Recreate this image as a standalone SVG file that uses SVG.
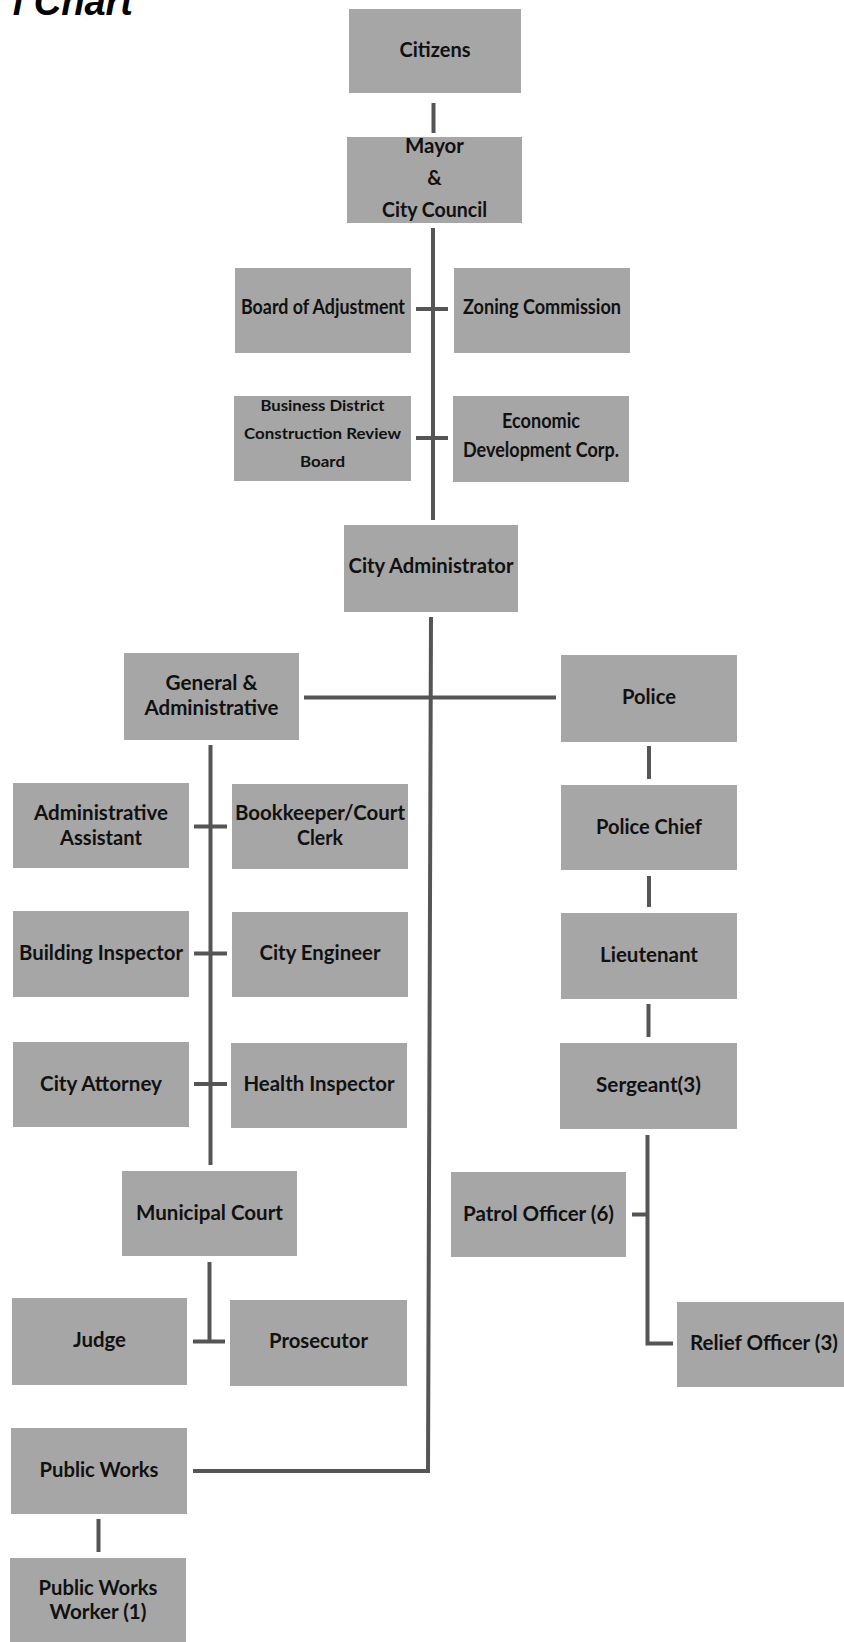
<svg xmlns="http://www.w3.org/2000/svg" width="844" height="1642" viewBox="0 0 844 1642">
<style>
.box{fill:#a6a6a6;}
.t{font-family:Lato,"Open Sans","Liberation Sans",sans-serif;font-weight:bold;font-size:20px;fill:#111;text-anchor:middle;}
.s{font-size:16px;}
.ln{stroke:#555555;stroke-width:4;fill:none;}
.title{font-family:"Liberation Sans",Arial,sans-serif;font-weight:bold;font-style:italic;font-size:38px;fill:#000;text-anchor:end;}
</style>
<rect width="844" height="1642" fill="#fff"/>
<text class="title" x="133" y="15">l Chart</text>
<g id="connectors">
<path class="ln" d="M433.5 103V133"/>
<path class="ln" d="M433 228V520"/>
<path class="ln" d="M416 309H448"/>
<path class="ln" d="M416 438H448"/>
<path class="ln" d="M431 617L428 1471H193"/>
<path class="ln" d="M304 697.5H556"/>
<path class="ln" d="M210.5 745V1165"/>
<path class="ln" d="M194 826.5H227"/>
<path class="ln" d="M194 953.5H227"/>
<path class="ln" d="M194 1084H227"/>
<path class="ln" d="M209.5 1262V1342"/>
<path class="ln" d="M193 1341.5H225"/>
<path class="ln" d="M649 746V779"/>
<path class="ln" d="M649 876V907"/>
<path class="ln" d="M648.5 1004V1037"/>
<path class="ln" d="M647.5 1135V1343.5H673"/>
<path class="ln" d="M632 1214.5H648"/>
<path class="ln" d="M98.5 1519V1552"/>
</g>
<g id="citizens"><rect class="box" x="349" y="9" width="172" height="84"/><text class="t" x="435" y="57" textLength="71" lengthAdjust="spacingAndGlyphs">Citizens</text></g>
<g id="mayor"><rect class="box" x="347" y="137" width="175" height="86"/><text class="t" x="434.5" y="153" textLength="59" lengthAdjust="spacingAndGlyphs">Mayor</text><text class="t" x="434.5" y="185">&amp;</text><text class="t" x="434.5" y="217" textLength="105" lengthAdjust="spacingAndGlyphs">City Council</text></g>
<g id="board-of-adjustment"><rect class="box" x="235" y="268" width="176" height="85"/><text class="t" x="323" y="314" textLength="164" lengthAdjust="spacingAndGlyphs">Board of Adjustment</text></g>
<g id="zoning-commission"><rect class="box" x="454" y="268" width="176" height="85"/><text class="t" x="542" y="314" textLength="158" lengthAdjust="spacingAndGlyphs">Zoning Commission</text></g>
<g id="business-district"><rect class="box" x="234" y="396" width="177" height="85"/><text class="t s" x="322.5" y="411" textLength="124" lengthAdjust="spacingAndGlyphs">Business District</text><text class="t s" x="322.5" y="439" textLength="157" lengthAdjust="spacingAndGlyphs">Construction Review</text><text class="t s" x="322.5" y="467" textLength="45" lengthAdjust="spacingAndGlyphs">Board</text></g>
<g id="economic-development"><rect class="box" x="453" y="396" width="176" height="86"/><text class="t" x="541" y="428" textLength="78" lengthAdjust="spacingAndGlyphs">Economic</text><text class="t" x="541" y="457" textLength="156" lengthAdjust="spacingAndGlyphs">Development Corp.</text></g>
<g id="city-administrator"><rect class="box" x="344" y="525" width="174" height="87"/><text class="t" x="431" y="573" textLength="165" lengthAdjust="spacingAndGlyphs">City Administrator</text></g>
<g id="general-administrative"><rect class="box" x="124" y="653" width="175" height="87"/><text class="t" x="211.5" y="690" textLength="92" lengthAdjust="spacingAndGlyphs">General &amp;</text><text class="t" x="211.5" y="715" textLength="134" lengthAdjust="spacingAndGlyphs">Administrative</text></g>
<g id="police"><rect class="box" x="561" y="655" width="176" height="87"/><text class="t" x="649" y="704" textLength="54" lengthAdjust="spacingAndGlyphs">Police</text></g>
<g id="administrative-assistant"><rect class="box" x="13" y="783" width="176" height="85"/><text class="t" x="101" y="820" textLength="134" lengthAdjust="spacingAndGlyphs">Administrative</text><text class="t" x="101" y="845" textLength="82" lengthAdjust="spacingAndGlyphs">Assistant</text></g>
<g id="bookkeeper"><rect class="box" x="232" y="784" width="176" height="85"/><text class="t" x="320" y="820" textLength="170" lengthAdjust="spacingAndGlyphs">Bookkeeper/Court</text><text class="t" x="320" y="845" textLength="46" lengthAdjust="spacingAndGlyphs">Clerk</text></g>
<g id="police-chief"><rect class="box" x="561" y="785" width="176" height="85"/><text class="t" x="649" y="834" textLength="106" lengthAdjust="spacingAndGlyphs">Police Chief</text></g>
<g id="building-inspector"><rect class="box" x="13" y="911" width="176" height="86"/><text class="t" x="101" y="960" textLength="164" lengthAdjust="spacingAndGlyphs">Building Inspector</text></g>
<g id="city-engineer"><rect class="box" x="232" y="912" width="176" height="85"/><text class="t" x="320" y="960" textLength="121" lengthAdjust="spacingAndGlyphs">City Engineer</text></g>
<g id="lieutenant"><rect class="box" x="561" y="913" width="176" height="86"/><text class="t" x="649" y="962" textLength="98" lengthAdjust="spacingAndGlyphs">Lieutenant</text></g>
<g id="city-attorney"><rect class="box" x="13" y="1042" width="176" height="85"/><text class="t" x="101" y="1091" textLength="122" lengthAdjust="spacingAndGlyphs">City Attorney</text></g>
<g id="health-inspector"><rect class="box" x="231" y="1043" width="176" height="85"/><text class="t" x="319" y="1091" textLength="151" lengthAdjust="spacingAndGlyphs">Health Inspector</text></g>
<g id="sergeant"><rect class="box" x="560" y="1043" width="177" height="86"/><text class="t" x="648.5" y="1092" textLength="105" lengthAdjust="spacingAndGlyphs">Sergeant(3)</text></g>
<g id="municipal-court"><rect class="box" x="122" y="1171" width="175" height="85"/><text class="t" x="209.5" y="1220" textLength="147" lengthAdjust="spacingAndGlyphs">Municipal Court</text></g>
<g id="patrol-officer"><rect class="box" x="451" y="1172" width="175" height="85"/><text class="t" x="538.5" y="1221" textLength="151" lengthAdjust="spacingAndGlyphs">Patrol Officer (6)</text></g>
<g id="judge"><rect class="box" x="12" y="1298" width="175" height="87"/><text class="t" x="99.5" y="1347" textLength="53" lengthAdjust="spacingAndGlyphs">Judge</text></g>
<g id="prosecutor"><rect class="box" x="230" y="1300" width="177" height="86"/><text class="t" x="318.5" y="1348" textLength="99" lengthAdjust="spacingAndGlyphs">Prosecutor</text></g>
<g id="relief-officer"><rect class="box" x="677" y="1302" width="176" height="85"/><text class="t" x="764" y="1350" textLength="148" lengthAdjust="spacingAndGlyphs">Relief Officer (3)</text></g>
<g id="public-works"><rect class="box" x="11" y="1428" width="176" height="86"/><text class="t" x="99" y="1477" textLength="119" lengthAdjust="spacingAndGlyphs">Public Works</text></g>
<g id="public-works-worker"><rect class="box" x="10" y="1558" width="176" height="86"/><text class="t" x="98" y="1595" textLength="119" lengthAdjust="spacingAndGlyphs">Public Works</text><text class="t" x="98" y="1619" textLength="97" lengthAdjust="spacingAndGlyphs">Worker (1)</text></g>
</svg>
